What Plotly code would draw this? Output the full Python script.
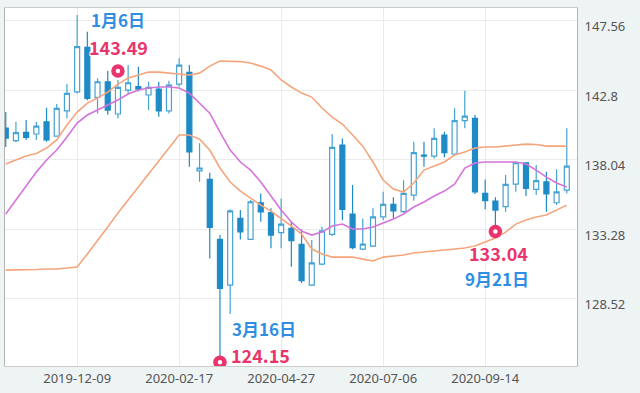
import plotly.graph_objects as go
import pandas as pd

# weekly candles, 2019-10-21 .. 2020-11-09
weeks = pd.date_range("2019-10-21", periods=56, freq="7D")

open_ = [140.20, 139.33, 139.90, 139.79, 140.63, 139.65, 141.38, 142.68, 145.72, 142.30,
         143.37, 141.16, 142.80, 143.03, 142.46, 142.87, 141.38, 143.21, 144.01, 137.27,
         136.68, 132.57, 129.44, 134.01, 132.57, 135.08, 134.40, 133.03, 133.33, 132.23,
         129.44, 130.88, 132.92, 139.03, 134.31, 131.91, 132.11, 134.12, 134.97, 134.47,
         135.61, 138.35, 138.28, 139.72, 138.42, 140.70, 140.86, 135.72, 135.20, 134.81,
         136.36, 137.82, 136.00, 136.52, 135.08, 135.95]
high = [141.29, 140.63, 140.75, 140.63, 141.59, 141.84, 143.21, 147.94, 146.79, 143.60,
        144.10, 143.49, 144.51, 144.40, 143.37, 143.37, 143.44, 144.97, 144.51, 139.15,
        137.14, 132.87, 134.63, 134.58, 135.27, 135.72, 134.70, 135.38, 133.78, 133.26,
        132.53, 133.44, 139.79, 139.49, 136.29, 134.01, 134.70, 135.83, 135.45, 136.63,
        139.26, 139.26, 140.18, 139.94, 141.55, 142.75, 141.09, 136.68, 135.45, 136.98,
        137.85, 137.86, 137.66, 137.20, 137.37, 140.18]
low = [138.90, 139.24, 139.38, 139.38, 139.26, 139.60, 140.86, 142.57, 142.11, 141.20,
       141.10, 140.86, 142.57, 142.70, 141.43, 140.97, 141.20, 143.03, 137.55, 136.52,
       131.27, 124.15, 127.46, 132.57, 132.53, 133.78, 131.96, 131.96, 130.70, 129.58,
       129.38, 130.80, 132.80, 133.89, 131.90, 131.85, 132.05, 133.89, 134.01, 134.40,
       135.22, 137.55, 138.12, 138.19, 138.28, 140.18, 135.68, 134.63, 133.04, 134.47,
       135.83, 135.54, 135.61, 134.47, 134.92, 135.72]
close = [139.51, 139.88, 139.56, 140.33, 139.38, 141.55, 142.57, 145.77, 142.23, 143.37,
         141.43, 142.98, 143.30, 142.87, 142.98, 141.38, 143.14, 144.51, 138.57, 137.46,
         133.40, 129.22, 134.53, 133.09, 135.15, 134.46, 132.87, 133.62, 132.48, 129.74,
         130.97, 133.16, 138.88, 134.63, 132.00, 132.25, 134.12, 134.97, 134.53, 135.72,
         138.51, 138.28, 139.49, 138.51, 140.70, 141.02, 135.83, 135.22, 134.58, 136.34,
         137.82, 136.07, 136.59, 135.68, 135.83, 137.59]

upper_band = [137.73, 138.01, 138.28, 138.45, 138.83, 139.38, 140.40, 141.29, 141.91, 142.25,
              142.66, 143.21, 143.62, 143.83, 144.03, 144.03, 143.96, 143.90, 143.83, 143.96,
              144.44, 144.79, 144.79, 144.75, 144.65, 144.44, 144.17, 143.49, 143.01, 142.59,
              142.32, 141.57, 140.95, 140.47, 139.72, 138.96, 137.87, 136.64, 136.02, 135.81,
              136.43, 137.32, 137.59, 137.87, 138.35, 138.55, 138.83, 138.90, 138.90, 138.96,
              139.07, 139.10, 139.07, 138.96, 138.96, 138.96]
lower_band = [130.47, 130.47, 130.47, 130.51, 130.54, 130.54, 130.61, 130.68, 131.57, 132.46,
              133.42, 134.38, 135.27, 136.16, 137.05, 138.01, 138.90, 139.72, 139.72, 139.44,
              138.69, 137.46, 136.50, 135.88, 135.40, 134.92, 134.51, 134.03, 133.49, 132.94,
              131.91, 131.57, 131.36, 131.36, 131.36, 131.22, 131.09, 131.36, 131.43, 131.50,
              131.64, 131.70, 131.77, 131.84, 131.91, 131.98, 132.12, 132.39, 132.66, 133.07,
              133.62, 133.90, 134.10, 134.24, 134.58, 134.92]
mid_line = [134.31, 135.27, 136.22, 137.18, 138.01, 138.69, 139.58, 140.54, 141.09, 141.43,
            141.77, 142.12, 142.53, 142.80, 142.94, 143.01, 143.01, 142.94, 142.59, 141.91,
            141.22, 139.92, 138.69, 137.87, 137.32, 136.50, 135.54, 134.58, 133.76, 133.14,
            132.87, 133.07, 133.49, 133.62, 133.28, 133.28, 133.42, 133.69, 133.96, 134.31,
            134.79, 135.13, 135.54, 135.88, 136.36, 137.46, 137.80, 137.87, 137.87, 137.87,
            137.87, 137.73, 137.32, 136.84, 136.43, 136.16]

xtick_vals = ["2019-12-09", "2020-02-17", "2020-04-27", "2020-07-06", "2020-09-14"]
ytick_vals = [128.52, 133.28, 138.04, 142.8, 147.56]
ytick_text = ["128.52", "133.28", "138.04", "142.8", "147.56"]

# callouts: date, date label, price, kind
callouts = [("2020-01-06", "1月6日", 143.49, "high"),
            ("2020-03-16", "3月16日", 124.15, "low_right"),
            ("2020-09-21", "9月21日", 133.04, "low")]

ORANGE = "#f5a57c"
MAGENTA = "#d474dc"
PINK = "#e9346c"
BLUE_TXT = "#2f8ee2"

fig = go.Figure()
fig.add_trace(go.Scatter(x=weeks, y=upper_band, mode="lines",
                         line=dict(color=ORANGE, width=1.6), hoverinfo="skip"))
fig.add_trace(go.Scatter(x=weeks, y=lower_band, mode="lines",
                         line=dict(color=ORANGE, width=1.6), hoverinfo="skip"))
fig.add_trace(go.Scatter(x=weeks, y=mid_line, mode="lines",
                         line=dict(color=MAGENTA, width=1.6), hoverinfo="skip"))
fig.add_trace(go.Candlestick(
    x=weeks, open=open_, high=high, low=low, close=close,
    increasing=dict(line=dict(color="#45a2d4", width=1.2), fillcolor="white"),
    decreasing=dict(line=dict(color="#1e8ac6", width=1.2), fillcolor="#1e8ac6"),
))

halo = "white 1px 1px 0px, white -1px -1px 0px, white 1px -1px 0px, white -1px 1px 0px, white 0px 0px 3px"
tfont = "Noto Sans CJK JP"

# pixel offsets: (circle dy, date dx, date dy, number dx, number dy)
offsets = {
    "high": (9, 0, 60, 1, 33),
    "low_right": (0, 44, 34, 41, 7),
    "low": (1, 2, -46, 3, -20),
}

shapes = []
annotations = []
for d, lab, val, kind in callouts:
    cdy, ddx, ddy, ndx, ndy = offsets[kind]
    shapes.append(dict(type="circle", xref="x", yref="y", xsizemode="pixel", ysizemode="pixel",
                       xanchor=d, yanchor=val, x0=-4.5, x1=4.5, y0=cdy - 4.5, y1=cdy + 4.5,
                       line=dict(color=PINK, width=4.5), fillcolor="white", layer="above"))
    annotations.append(dict(x=d, y=val, xref="x", yref="y", text=lab, showarrow=False,
                            xshift=ddx, yshift=ddy, xanchor="center", yanchor="middle",
                            borderpad=0,
                            font=dict(family=tfont, size=17, color=BLUE_TXT, weight="bold",
                                      shadow=halo)))
    annotations.append(dict(x=d, y=val, xref="x", yref="y", text=f"{val:.2f}", showarrow=False,
                            xshift=ndx, yshift=ndy, xanchor="center", yanchor="middle",
                            borderpad=0,
                            font=dict(family=tfont, size=18, color=PINK, weight="bold",
                                      shadow=halo)))

fig.update_layout(
    width=640, height=393,
    margin=dict(l=5, r=63, t=8, b=27),
    paper_bgcolor="#eef3f4", plot_bgcolor="white",
    showlegend=False,
    shapes=shapes, annotations=annotations,
    xaxis=dict(
        type="date", range=["2019-10-20 12:00", "2020-11-16"],
        tickmode="array", tickvals=xtick_vals, ticktext=xtick_vals,
        showgrid=True, gridcolor="#ebebeb", gridwidth=1,
        showline=True, linecolor="#cccccc", linewidth=1, mirror=True,
        ticks="", tickfont=dict(family="Noto Sans", size=13, color="#555555"),
        rangeslider=dict(visible=False), fixedrange=True, zeroline=False,
    ),
    yaxis=dict(
        side="right", range=[123.90, 148.42],
        tickmode="array", tickvals=ytick_vals, ticktext=ytick_text,
        showgrid=True, gridcolor="#ebebeb", gridwidth=1,
        showline=True, linecolor="#b5b5b5", linewidth=1, mirror=True,
        ticks="", ticklabelshift=6, ticklabelstandoff=4,
        tickfont=dict(family="Noto Sans", size=13, color="#555555"),
        zeroline=False, fixedrange=True,
    ),
)

fig.write_html("out.html")
